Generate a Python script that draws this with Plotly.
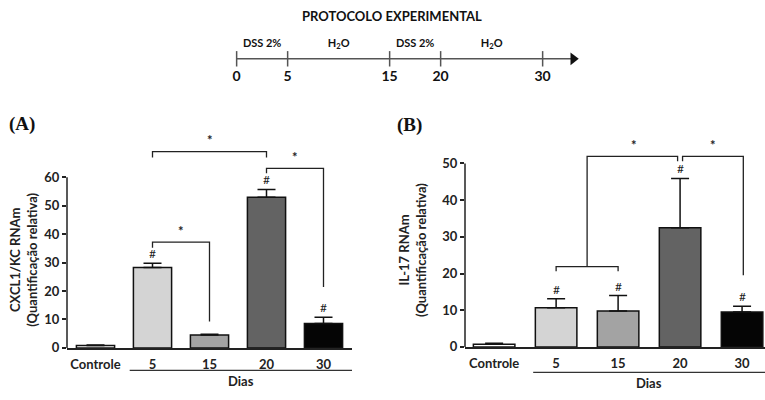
import plotly.graph_objects as go

# ---------------- data ----------------
categories = ["Controle", "5", "15", "20", "30"]
bar_colors = ["#ffffff", "#d4d4d4", "#a3a3a3", "#636363", "#050505"]

cxcl1_mean = [0.8, 28.3, 4.5, 53.0, 8.6]
cxcl1_err = [0.2, 1.5, 0.3, 2.7, 2.2]
cxcl1_hash = [False, True, False, True, True]

il17_mean = [0.7, 10.7, 9.8, 32.5, 9.5]
il17_err = [0.3, 2.4, 4.2, 13.4, 1.6]
il17_hash = [False, True, True, True, True]

a_ticks = [0, 10, 20, 30, 40, 50, 60]
b_ticks = [0, 10, 20, 30, 40, 50]

timeline_days = [0, 5, 15, 20, 30]
timeline_phases = ["DSS 2%", "H<sub>2</sub>O", "DSS 2%", "H<sub>2</sub>O"]
timeline_phase_mid = [2.5, 10, 17.5, 25]

# significance brackets (x in category index, y in data units)
a_brackets = [
    ([1, 1, 3, 3], [66.9, 69, 69, 66.9], 2.0, 69.4),
    ([3, 3, 4, 4], [61.4, 63.1, 63.1, 21.4], 3.5, 63.5),
    ([1, 1, 2, 2], [35.2, 37.2, 37.2, 9.3], 1.5, 37.6),
]
b_group = ([1, 1, 2, 2], [20.6, 21.9, 21.9, 20.6])
b_brackets = [
    ([1.5, 1.5, 2.96, 2.96], [21.9, 51.9, 51.9, 50.6], 2.25, 52.2),
    ([3.04, 3.04, 4.02, 4.02], [50.6, 51.9, 51.9, 19.5], 3.53, 52.2),
]

FONT = "Lato, 'Open Sans', sans-serif"
W, H = 765, 400

fig = go.Figure()


def add_panel(xa, ya, means, errs, hashes):
    fig.add_trace(go.Bar(
        x=list(range(len(categories))), y=means,
        marker=dict(color=bar_colors, line=dict(color="#111", width=1.5)),
        width=0.67,
        error_y=dict(type="data", array=errs, arrayminus=[0] * len(errs),
                     symmetric=False, color="#111", thickness=1.5, width=9),
        xaxis=xa, yaxis=ya, showlegend=False, hoverinfo="skip",
    ))
    for i, h in enumerate(hashes):
        if h:
            fig.add_annotation(x=i, y=means[i] + errs[i], xref=xa, yref=ya,
                               text="#", showarrow=False, yanchor="bottom",
                               yshift=0, font=dict(family=FONT, size=12, color="#222"))


def add_bracket(xa, ya, xs, ys, sx=None, sy=None):
    fig.add_trace(go.Scatter(x=xs, y=ys, mode="lines", xaxis=xa, yaxis=ya,
                             line=dict(color="#222", width=1.3),
                             showlegend=False, hoverinfo="skip"))
    if sx is not None:
        fig.add_annotation(x=sx, y=sy, xref=xa, yref=ya, text="<b>*</b>", showarrow=False,
                           yanchor="bottom", font=dict(family=FONT, size=13, color="#222"))


# Panel A
add_panel("x", "y", cxcl1_mean, cxcl1_err, cxcl1_hash)
for xs, ys, sx, sy in a_brackets:
    add_bracket("x", "y", xs, ys, sx, sy)

# Panel B
add_panel("x2", "y2", il17_mean, il17_err, il17_hash)
add_bracket("x2", "y2", *b_group)
for xs, ys, sx, sy in b_brackets:
    add_bracket("x2", "y2", xs, ys, sx, sy)

# Timeline
fig.add_trace(go.Scatter(
    x=[timeline_days[0], 33.0], y=[0, 0], mode="lines",
    line=dict(color="#555", width=1.5),
    xaxis="x3", yaxis="y3", showlegend=False, hoverinfo="skip",
))
fig.add_trace(go.Scatter(
    x=timeline_days, y=[0] * len(timeline_days), mode="markers",
    marker=dict(symbol="line-ns-open", size=11, color="#555", line=dict(color="#555", width=1.5)),
    xaxis="x3", yaxis="y3", showlegend=False, hoverinfo="skip", cliponaxis=False,
))
fig.add_trace(go.Scatter(
    x=timeline_days, y=[-0.48] * len(timeline_days), mode="text",
    text=["<b>%d</b>" % d for d in timeline_days],
    textfont=dict(family=FONT, size=14, color="#111"),
    xaxis="x3", yaxis="y3", showlegend=False, hoverinfo="skip", cliponaxis=False,
))
fig.add_trace(go.Scatter(
    x=timeline_phase_mid, y=[0.38] * len(timeline_phase_mid), mode="text",
    text=["<b>%s</b>" % t for t in timeline_phases],
    textfont=dict(family=FONT, size=11, color="#111"),
    xaxis="x3", yaxis="y3", showlegend=False, hoverinfo="skip", cliponaxis=False,
))
fig.add_trace(go.Scatter(
    x=[33.0], y=[0], mode="markers",
    marker=dict(symbol="triangle-right", size=11, color="#111"),
    xaxis="x3", yaxis="y3", showlegend=False, hoverinfo="skip", cliponaxis=False,
))
fig.add_annotation(x=0.513, y=1 - 16 / H, xref="paper", yref="paper",
                   xanchor="center", yanchor="middle",
                   text="<b>PROTOCOLO EXPERIMENTAL</b>", showarrow=False,
                   font=dict(family=FONT, size=13, color="#111"))

axis_font = dict(family=FONT, size=13, color="#222", weight=700)

xa_dom = [67 / W, 352 / W]
xb_dom = [465 / W, 1.0]

fig.update_layout(
    width=W, height=H, margin=dict(l=0, r=0, t=0, b=0),
    paper_bgcolor="white", plot_bgcolor="rgba(0,0,0,0)",
    font=dict(family=FONT),
    xaxis=dict(domain=xa_dom, range=[-0.5, 4.5], tickvals=list(range(5)), ticktext=categories,
               showline=True, linecolor="#222", linewidth=1.5, ticks="", showgrid=False,
               zeroline=False, tickfont=axis_font, anchor="y", ticklabelstandoff=4),
    yaxis=dict(domain=[45 / H, 254 / H], range=[0, 72], tickvals=a_ticks,
               showline=False, ticks="outside", ticklen=4, tickwidth=1.5, tickcolor="#222",
               showgrid=False, zeroline=False, tickfont=axis_font, anchor="x"),
    xaxis2=dict(domain=xb_dom, range=[-0.47, 4.37], tickvals=list(range(5)), ticktext=categories,
                showline=True, linecolor="#222", linewidth=1.5, ticks="", showgrid=False,
                zeroline=False, tickfont=axis_font, anchor="y2", ticklabelstandoff=4),
    yaxis2=dict(domain=[46 / H, 252 / H], range=[0, 55], tickvals=b_ticks,
                showline=False, ticks="outside", ticklen=4, tickwidth=1.5, tickcolor="#222",
                showgrid=False, zeroline=False, tickfont=axis_font, anchor="x2"),
    xaxis3=dict(domain=[0, 1], range=[-23.2, 51.8], visible=False, anchor="y3"),
    yaxis3=dict(domain=[0.75, 0.95], range=[-1, 1], visible=False, anchor="x3"),
)

# y axis lines (stop at last tick)
fig.add_shape(type="line", xref="paper", yref="y", x0=xa_dom[0], x1=xa_dom[0], y0=0, y1=a_ticks[-1],
              line=dict(color="#222", width=1.5))
fig.add_shape(type="line", xref="paper", yref="y2", x0=xb_dom[0], x1=xb_dom[0], y0=0, y1=b_ticks[-1],
              line=dict(color="#222", width=1.5))

# "Dias" grouping lines
fig.add_shape(type="line", xref="x", yref="paper", x0=0.6, x1=4.5, y0=1 - 378 / H, y1=1 - 378 / H,
              line=dict(color="#333", width=1.2))
fig.add_shape(type="line", xref="x2", yref="paper", x0=0.63, x1=4.37, y0=1 - 380 / H, y1=1 - 380 / H,
              line=dict(color="#333", width=1.2))
fig.add_annotation(x=2.55, y=1 - 389 / H, xref="x", yref="paper", text="<b>Dias</b>",
                   xanchor="center", yanchor="middle",
                   showarrow=False, font=dict(family=FONT, size=13, color="#222"))
fig.add_annotation(x=2.5, y=1 - 391 / H, xref="x2", yref="paper", text="<b>Dias</b>",
                   xanchor="center", yanchor="middle",
                   showarrow=False, font=dict(family=FONT, size=13, color="#222"))

# Axis titles
fig.add_annotation(x=24 / W, y=1 - 265 / H, xref="paper", yref="paper", textangle=-90,
                   xanchor="center", yanchor="middle",
                   text="<b>CXCL1/KC RNAm<br>(Quantificação relativa)</b>", showarrow=False,
                   font=dict(family=FONT, size=13, color="#222"))
fig.add_annotation(x=413 / W, y=1 - 255 / H, xref="paper", yref="paper", textangle=-90,
                   xanchor="center", yanchor="middle",
                   text="<b>IL-17 RNAm<br>(Quantificação relativa)</b>", showarrow=False,
                   font=dict(family=FONT, size=13, color="#222"))

# Panel letters
fig.add_annotation(x=22 / W, y=1 - 127 / H, xref="paper", yref="paper", text="<b>(A)</b>",
                   xanchor="center", yanchor="middle",
                   showarrow=False, font=dict(family="Liberation Serif, serif", size=19, color="#111"))
fig.add_annotation(x=409 / W, y=1 - 128 / H, xref="paper", yref="paper", text="<b>(B)</b>",
                   xanchor="center", yanchor="middle",
                   showarrow=False, font=dict(family="Liberation Serif, serif", size=19, color="#111"))

fig.write_html("out.html")
